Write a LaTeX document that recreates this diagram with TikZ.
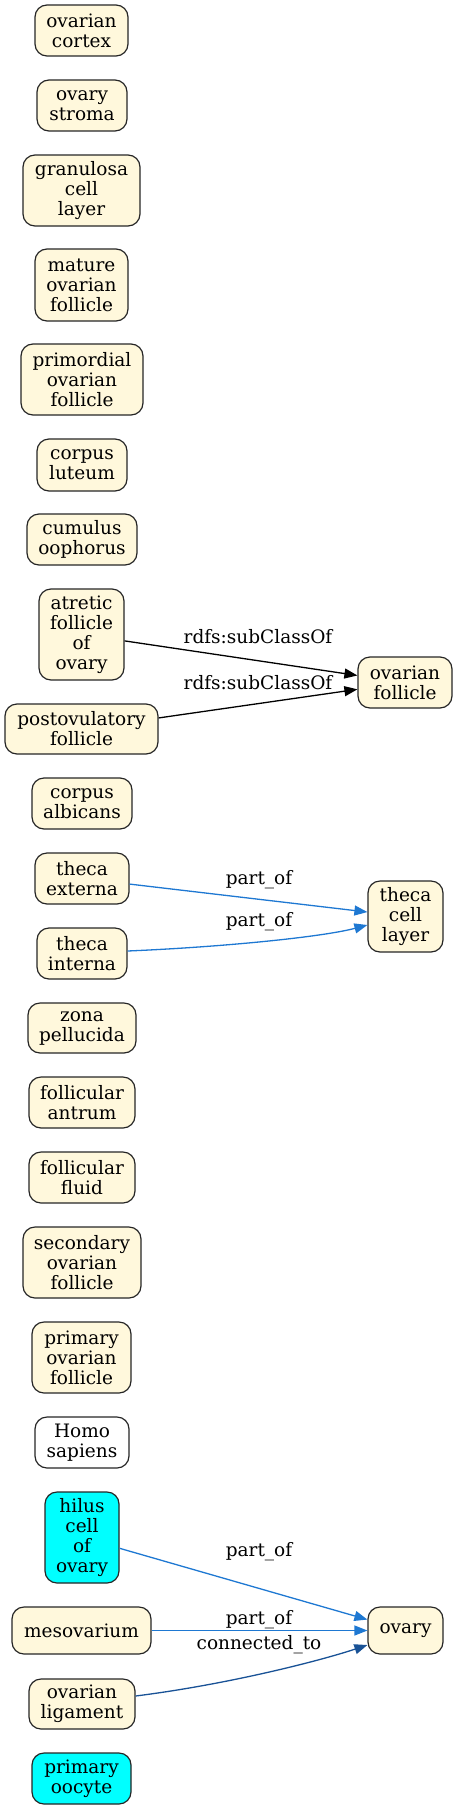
\documentclass[tikz,border=0pt]{standalone}
\usepackage{fontspec}
\setmainfont{DejaVu Serif}
\usetikzlibrary{arrows.meta}
\definecolor{cornsilk}{RGB}{255,248,220}
\definecolor{aqua}{RGB}{0,255,255}
\definecolor{partblue}{RGB}{30,120,210}
\definecolor{connblue}{RGB}{25,82,150}
\tikzset{
  box/.style={draw=black!85, line width=1.2pt, rounded corners=12pt, fill=cornsilk,
    inner sep=0pt, align=center, font=\fontsize{18.5}{20}\selectfont},
  cyanbox/.style={box, fill=aqua},
  whitebox/.style={box, fill=white},
  lbl/.style={inner sep=0pt, font=\fontsize{18.5}{20}\selectfont},
  sub/.style={draw=black, line width=1.3pt, -{Triangle[length=13pt,width=10pt]}},
  part/.style={draw=partblue, line width=1.3pt, -{Triangle[length=13pt,width=10pt]}},
  conn/.style={draw=connblue, line width=1.3pt, -{Triangle[length=13pt,width=10pt]}}
}
\begin{document}
\begin{tikzpicture}[x=1pt,y=-1pt]
\useasboundingbox (0,0) rectangle (457,1809);
\node[box, minimum width=93pt, minimum height=51pt] (cortex) at (81.5,30.5) {ovarian\\cortex};
\node[box, minimum width=90pt, minimum height=51pt] (stroma) at (82,105.5) {ovary\\stroma};
\node[box, minimum width=117pt, minimum height=71pt] (gran) at (81.5,190.5) {granulosa\\cell\\layer};
\node[box, minimum width=93pt, minimum height=72pt] (mature) at (81.5,285) {mature\\ovarian\\follicle};
\node[box, minimum width=122pt, minimum height=71pt] (primord) at (82,379.5) {primordial\\ovarian\\follicle};
\node[box, minimum width=90pt, minimum height=52pt] (luteum) at (82,465) {corpus\\luteum};
\node[box, minimum width=110pt, minimum height=51pt] (cumulus) at (82,539.5) {cumulus\\oophorus};
\node[box, minimum width=85pt, minimum height=91pt] (atretic) at (81.5,634.5) {atretic\\follicle\\of\\ovary};
\node[box, minimum width=153pt, minimum height=50pt] (postov) at (81.5,729) {postovulatory\\follicle};
\node[box, minimum width=100pt, minimum height=51pt] (albicans) at (82,803.5) {corpus\\albicans};
\node[box, minimum width=94pt, minimum height=51pt] (thext) at (82,878.5) {theca\\externa};
\node[box, minimum width=90pt, minimum height=51pt] (thint) at (82,953.5) {theca\\interna};
\node[box, minimum width=108pt, minimum height=50pt] (zona) at (82,1028) {zona\\pellucida};
\node[box, minimum width=106pt, minimum height=51pt] (antrum) at (82,1102.5) {follicular\\antrum};
\node[box, minimum width=106pt, minimum height=51pt] (fluid) at (82,1177.5) {follicular\\fluid};
\node[box, minimum width=118pt, minimum height=71pt] (second) at (82,1262.5) {secondary\\ovarian\\follicle};
\node[box, minimum width=99pt, minimum height=71pt] (primary) at (81.5,1357.5) {primary\\ovarian\\follicle};
\node[whitebox, minimum width=94pt, minimum height=51pt] (homo) at (82,1442.5) {Homo\\sapiens};
\node[cyanbox, minimum width=74pt, minimum height=91pt] (hilus) at (82,1537.5) {hilus\\cell\\of\\ovary};
\node[box, minimum width=139pt, minimum height=47pt] (meso) at (81.5,1630.5) {mesovarium};
\node[box, minimum width=106pt, minimum height=50pt] (ovlig) at (82,1704) {ovarian\\ligament};
\node[cyanbox, minimum width=99pt, minimum height=51pt] (oocyte) at (81.5,1778.5) {primary\\oocyte};
\node[box, minimum width=94pt, minimum height=51pt] (ovfol) at (405,682.5) {ovarian\\follicle};
\node[box, minimum width=75pt, minimum height=71pt] (thcell) at (405.5,916.5) {theca\\cell\\layer};
\node[box, minimum width=75pt, minimum height=47pt] (ovary) at (405.5,1630.5) {ovary};

\draw[sub] (atretic) -- (ovfol);
\draw[sub] (postov) -- (ovfol);
\draw[part] (thext) -- (thcell);
\draw[part] ([yshift=2.5pt]thint.east) .. controls +(95,-4) and +(-45,12) .. ([yshift=-8.5pt]thcell.west);
\draw[part] (hilus) -- (ovary);
\draw[part] (meso) -- (ovary);
\draw[conn] ([yshift=8pt]ovlig.east) .. controls +(95,-12) and +(-45,15) .. ([yshift=-14.5pt]ovary.west);

\node[lbl] (l1) at (258,637) {rdfs:subClassOf};
\node[lbl] (l2) at (258,683) {rdfs:subClassOf};
\node[lbl] (l3) at (259,880) {part\_of};
\node[lbl] (l4) at (259,921.5) {part\_of};
\node[lbl] (l5) at (259,1551.5) {part\_of};
\node[lbl] (l6) at (259,1620) {part\_of};
\node[lbl] (l7) at (259,1645) {connected\_to};
\end{tikzpicture}
\end{document}
